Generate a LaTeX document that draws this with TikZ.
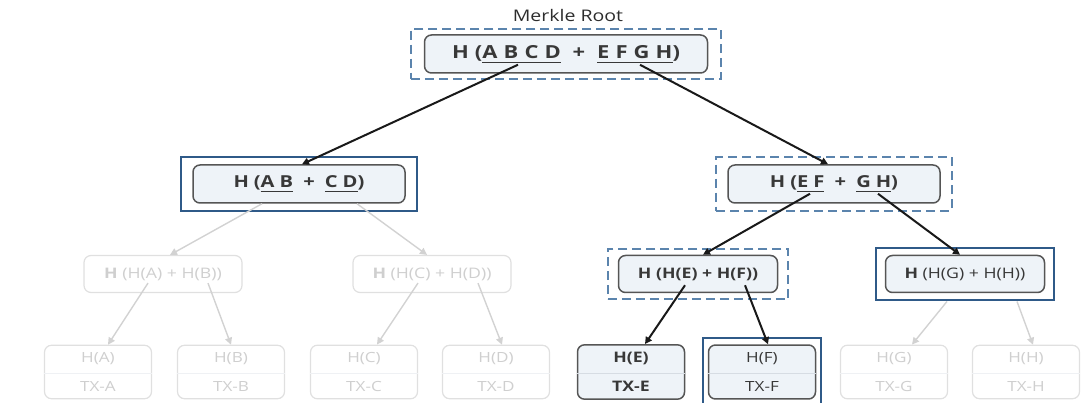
\documentclass[tikz,border=0pt]{standalone}
\usepackage{fontspec}
\setmainfont{Open Sans}[FakeStretch=1.22]
\usepackage{xcolor}
\usetikzlibrary{arrows.meta,positioning,fit,shapes.multipart}
\definecolor{boxfill}{HTML}{EEF3F8}
\definecolor{boxline}{HTML}{555555}
\definecolor{txt}{HTML}{383838}
\definecolor{fadeline}{HTML}{E0E0E0}
\definecolor{fadetxt}{HTML}{CFCFCF}
\definecolor{proofblue}{HTML}{2F5A88}
\definecolor{pathblue}{HTML}{5B84AD}
\definecolor{splitline}{HTML}{D6DCE3}
\newcommand{\ul}[1]{\underline{#1\vphantom{,}}}

\begin{document}
\begin{tikzpicture}[x=1pt, y=-1pt,
  hbox/.style={draw=boxline, line width=1.5pt, rounded corners=7pt, fill=boxfill,
               text=txt, inner sep=0pt, minimum height=38pt},
  fadebox/.style={draw=fadeline, line width=1.2pt, rounded corners=7pt, fill=white,
               text=fadetxt, inner sep=0pt, minimum height=37pt, minimum width=158pt},
  leafbox/.style={rectangle split, rectangle split parts=2, rectangle split draw splits=false,
               draw=boxline, line width=1.5pt, rounded corners=7pt, fill=boxfill, text=txt,
               inner xsep=0pt, inner ysep=7pt, text width=107pt, align=center,
               text height=10pt, text depth=3pt, font=\fontsize{14}{16}\selectfont},
  fadeleaf/.style={leafbox, draw=fadeline, line width=1.2pt, fill=white, text=fadetxt},
  proof/.style={draw=proofblue, line width=2.4pt, inner xsep=11pt, inner ysep=7pt},
  onpath/.style={draw=pathblue, line width=2.3pt, dash pattern=on 9pt off 5pt,
               inner xsep=11pt, inner ysep=7pt},
  arr/.style={-{Triangle[length=7pt,width=7pt]}, line width=2pt, black!90},
  farr/.style={-{Triangle[length=7pt,width=7pt]}, line width=1.4pt, fadeline!85!gray}
]
\useasboundingbox (0,0) rectangle (1092,403);

% top of the tree
\node[text=txt!80!black, font=\fontsize{16}{18}\selectfont] (title) at (568,16) {Merkle Root};
\node[hbox, minimum width=283pt, font=\fontsize{18}{20}\selectfont\bfseries\addfontfeatures{LetterSpace=34}]
  (root) at (566,54) {H(\ul{ABCD} + \ul{EFGH})};
\node[onpath, fit=(root), inner xsep=13pt, inner ysep=5pt] (rootf) {};

% second level
\node[hbox, minimum width=212pt, font=\fontsize{16.5}{18}\selectfont\bfseries\addfontfeatures{LetterSpace=30}]
  (abcd) at (299,184) {H(\ul{AB} + \ul{CD})};
\node[proof, fit=(abcd)] (abcdf) {};
\node[hbox, minimum width=212pt, font=\fontsize{16.5}{18}\selectfont\bfseries\addfontfeatures{LetterSpace=30}]
  (efgh) at (834,184) {H(\ul{EF} + \ul{GH})};
\node[onpath, fit=(efgh)] (efghf) {};

% third level
\node[fadebox, font=\fontsize{14.5}{16}\selectfont] (ab) at (163,274) {\textbf{H} (H(A) + H(B))};
\node[fadebox, font=\fontsize{14.5}{16}\selectfont] (cd) at (432,274) {\textbf{H} (H(C) + H(D))};
\node[hbox, minimum width=159pt, minimum height=37pt, font=\fontsize{14.5}{16}\selectfont\bfseries]
  (ef) at (698,274) {H (H(E) + H(F))};
\node[onpath, fit=(ef), inner xsep=10pt, inner ysep=6pt] (eff) {};
\node[hbox, minimum width=159pt, minimum height=37pt, font=\fontsize{14.5}{16}\selectfont]
  (gh) at (965,274) {\textbf{H} (H(G) + H(H))};
\node[proof, fit=(gh), inner xsep=9pt] (ghf) {};

% leaves
\node[fadeleaf] (la) at (98,372)  {H(A)\nodepart{two}TX-A};
\node[fadeleaf] (lb) at (231,372) {H(B)\nodepart{two}TX-B};
\node[fadeleaf] (lc) at (364,372) {H(C)\nodepart{two}TX-C};
\node[fadeleaf] (ld) at (496,372) {H(D)\nodepart{two}TX-D};
\node[leafbox, font=\fontsize{14.5}{16}\selectfont\bfseries] (le) at (631,372) {H(E)\nodepart{two}TX-E};
\node[leafbox] (lf) at (762,372) {H(F)\nodepart{two}TX-F};
\node[fadeleaf] (lg) at (894,372) {H(G)\nodepart{two}TX-G};
\node[fadeleaf] (lh) at (1026,372) {H(H)\nodepart{two}TX-H};
\foreach \n/\c in {la/splitline!40!white,lb/splitline!40!white,lc/splitline!40!white,ld/splitline!40!white,le/splitline,lf/splitline,lg/splitline!40!white,lh/splitline!40!white}
  \draw[\c, line width=0.9pt] (\n.text split west) -- (\n.text split east);
\coordinate (lfbot) at ([yshift=-40pt]lf.south);
\node[proof, fit=(lf)(lfbot), inner xsep=5pt, inner ysep=6pt] (lff) {};

% connectors
\draw[arr] ([xshift=-48pt,yshift=9pt]root.south) -- ([xshift=3pt]abcd.north);
\draw[arr] ([xshift=74pt,yshift=9pt]root.south) -- ([xshift=-6pt]efgh.north);
\draw[farr] ([xshift=-37pt]abcd.south) -- ([xshift=7pt]ab.north);
\draw[farr] ([xshift=58pt]abcd.south) -- ([xshift=-5pt]cd.north);
\draw[arr] ([xshift=-24pt,yshift=10pt]efgh.south) -- ([xshift=5pt]ef.north);
\draw[arr] ([xshift=44pt,yshift=10pt]efgh.south) -- ([xshift=-5pt]gh.north);
\draw[farr] ([xshift=-15pt,yshift=10pt]ab.south) -- ([xshift=10pt]la.north);
\draw[farr] ([xshift=45pt,yshift=10pt]ab.south) -- (lb.north);
\draw[farr] ([xshift=-14pt,yshift=10pt]cd.south) -- ([xshift=13pt]lc.north);
\draw[farr] ([xshift=46pt,yshift=10pt]cd.south) -- ([xshift=6pt]ld.north);
\draw[arr] ([xshift=-13pt,yshift=8pt]ef.south) -- ([xshift=14pt]le.north);
\draw[arr] ([xshift=47pt,yshift=8pt]ef.south) -- ([xshift=6pt]lf.north);
\draw[farr] ([xshift=-18pt]ghf.south) -- ([xshift=18pt]lg.north);
\draw[farr] ([xshift=52pt]ghf.south) -- ([xshift=7pt]lh.north);
\end{tikzpicture}
\end{document}
